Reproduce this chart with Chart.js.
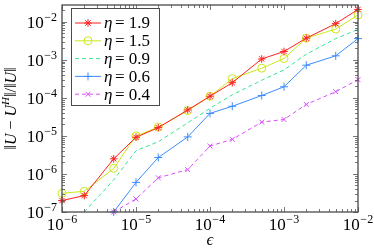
<!DOCTYPE html>
<html>
<head>
<meta charset="utf-8">
<script src="https://cdn.jsdelivr.net/npm/chart.js@4/dist/chart.umd.min.js"></script>
<style>
html, body { margin: 0; padding: 0; background: #fff; }
#wrap { width: 374px; height: 248px; }
</style>
</head>
<body>
<div id="wrap"><canvas id="errChart"></canvas></div>
<script>
// epsilon values (x axis)
var epsValues = [1e-6, 2e-6, 5e-6, 1e-5, 2e-5, 5e-5, 1e-4, 2e-4, 5e-4, 1e-3, 2e-3, 5e-3, 1e-2];

// relative error per eta
var err19 = [2.0e-7, 2.7e-7, 2.5e-6, 9.2e-6, 1.65e-5, 4.8e-5, 1.1e-4, 2.5e-4, 1.05e-3, 1.65e-3, 3.7e-3, 8.9e-3, 2.1e-2];
var err15 = [3.1e-7, 3.5e-7, 1.4e-6, 1.0e-5, 1.7e-5, 4.6e-5, 1.1e-4, 3.2e-4, 6.0e-4, 1.08e-3, 3.7e-3, 6.4e-3, 1.5e-2];
var err09 = [null, 1.0e-7, 7.0e-7, 4.1e-6, 7.0e-6, 2.2e-5, 5.3e-5, 1.2e-4, 2.9e-4, 5.4e-4, 1.4e-3, 3.6e-3, 6.3e-3];
var err06 = [null, null, 1.0e-7, 6.0e-7, 2.7e-6, 9.4e-6, 3.9e-5, 6.0e-5, 1.15e-4, 1.95e-4, 7.2e-4, 1.27e-3, 3.6e-3];
var err04 = [null, null, 1.0e-7, 2.2e-7, 7.9e-7, 1.3e-6, 5.4e-6, 8.1e-6, 2.3e-5, 2.7e-5, 6.7e-5, 1.45e-4, 3.0e-4];

var seriesLabels = ['1.9', '1.5', '0.9', '0.6', '0.4'];

// tick values and their exponent labels (drawn as 10^exp)
var xTicks = [1e-6, 1e-5, 1e-4, 1e-3, 1e-2];
var xTickExps = ['\u22126', '\u22125', '\u22124', '\u22123', '\u22122'];
var yTicks = [1e-7, 1e-6, 1e-5, 1e-4, 1e-3, 1e-2];
var yTickExps = ['\u22127', '\u22126', '\u22125', '\u22124', '\u22123', '\u22122'];

var serif = '"Liberation Serif", serif';

function toPoints(ys) {
    var pts = [];
    for (var i = 0; i < epsValues.length; i++) {
        pts.push({ x: epsValues[i], y: ys[i] });
    }
    return pts;
}

function makeSet(label, ys, color, style, radius, dash) {
    return {
        label: label,
        data: toPoints(ys),
        borderColor: color,
        backgroundColor: color,
        borderWidth: 1,
        borderDash: dash,
        pointStyle: style,
        pointRadius: radius,
        pointBorderColor: color,
        pointBackgroundColor: 'rgba(0,0,0,0)',
        pointBorderWidth: 1,
        tension: 0,
        fill: false,
        clip: false
    };
}

var dataArray = [
    makeSet(seriesLabels[0], err19, '#ff2020', 'star', 3.8, []),
    makeSet(seriesLabels[1], err15, '#cce81a', 'circle', 4, []),
    makeSet(seriesLabels[2], err09, '#33e68c', false, 0, [4, 3]),
    makeSet(seriesLabels[3], err06, '#3a8cff', 'cross', 4, []),
    makeSet(seriesLabels[4], err04, '#d94dff', 'crossRot', 3.5, [4, 3])
];

// draws "10" with a raised exponent; y is the middle of the "10"
function drawPow(c, exp, x, y, align) {
    c.font = '17px ' + serif;
    var wb = c.measureText('10').width;
    c.font = '12px ' + serif;
    var we = c.measureText(exp).width;
    var total = wb + we + 0.5;
    var left = (align == 'right') ? x - total : x - total / 2;
    c.textBaseline = 'middle';
    c.textAlign = 'left';
    c.fillStyle = '#000';
    c.font = '17px ' + serif;
    c.fillText('10', left, y);
    c.font = '12px ' + serif;
    c.fillText(exp, left + wb + 0.5, y - 6);
}

var framePlugin = {
    id: 'framePlugin',
    afterDraw: function(chart) {
        var c = chart.ctx;
        var a = chart.chartArea;
        var xs = chart.scales.x, ys = chart.scales.y;
        c.save();

        // inward ticks, all four sides
        c.strokeStyle = '#555';
        c.lineWidth = 0.8;
        c.beginPath();
        var d, m, v, p, len, i;
        for (d = -6; d <= -2; d++) {
            for (m = 1; m <= 9; m++) {
                v = m * Math.pow(10, d);
                if (v > 1e-2 * 1.0001) break;
                p = Math.round(xs.getPixelForValue(v)) + 0.5;
                len = (m == 1) ? 5 : 3;
                c.moveTo(p, a.bottom); c.lineTo(p, a.bottom - len);
                c.moveTo(p, a.top); c.lineTo(p, a.top + len);
            }
        }
        for (d = -7; d <= -2; d++) {
            for (m = 1; m <= 9; m++) {
                v = m * Math.pow(10, d);
                if (v > ys.max) break;
                p = Math.round(ys.getPixelForValue(v)) + 0.5;
                len = (m == 1) ? 5 : 3;
                c.moveTo(a.left, p); c.lineTo(a.left + len, p);
                c.moveTo(a.right, p); c.lineTo(a.right - len, p);
            }
        }
        c.stroke();
        c.lineWidth = 1.3;
        c.strokeStyle = '#4a4a4a';
        c.strokeRect(a.left, a.top, a.right - a.left, a.bottom - a.top);

        // tick labels
        for (i = 0; i < xTicks.length; i++) {
            drawPow(c, xTickExps[i], xs.getPixelForValue(xTicks[i]), a.bottom + 14, 'center');
        }
        for (i = 0; i < yTicks.length; i++) {
            drawPow(c, yTickExps[i], a.left - 5, ys.getPixelForValue(yTicks[i]) + 2, 'right');
        }

        // x title
        c.font = 'italic 17px ' + serif;
        c.textAlign = 'center';
        c.textBaseline = 'middle';
        c.fillText('\u03F5', (a.left + a.right) / 2, 241);

        // y title ||U - U^H|| / ||U||
        var parts = [
            { t: '\u2016', it: false }, { t: 'U', it: true }, { t: ' \u2212 ', it: false },
            { t: 'U', it: true }, { t: 'H', it: true, sup: true }, { t: '\u2016/\u2016', it: false },
            { t: 'U', it: true }, { t: '\u2016', it: false }
        ];
        var total = 0;
        for (i = 0; i < parts.length; i++) {
            c.font = (parts[i].it ? 'italic ' : '') + (parts[i].sup ? '11px ' : '16px ') + serif;
            parts[i].w = c.measureText(parts[i].t).width;
            total += parts[i].w;
        }
        c.translate(12, (a.top + a.bottom) / 2);
        c.rotate(-Math.PI / 2);
        c.textAlign = 'left';
        var px = -total / 2;
        for (i = 0; i < parts.length; i++) {
            c.font = (parts[i].it ? 'italic ' : '') + (parts[i].sup ? '11px ' : '16px ') + serif;
            c.fillText(parts[i].t, px, parts[i].sup ? -6 : 0);
            px += parts[i].w;
        }
        c.setTransform(1, 0, 0, 1, 0, 0);

        // legend box
        var bx = a.left + 9, by = a.top + 3, bw = 88, bh = 97;
        c.fillStyle = '#fff';
        c.fillRect(bx, by, bw, bh);
        c.lineWidth = 1;
        c.strokeStyle = '#4a4a4a';
        c.strokeRect(bx + 0.5, by + 0.5, bw, bh);
        var sets = chart.data.datasets;
        for (i = 0; i < sets.length; i++) {
            var ds = sets[i];
            var cy = by + 15 + i * 17.8;
            c.strokeStyle = ds.borderColor;
            c.lineWidth = 1;
            c.setLineDash(ds.borderDash || []);
            c.beginPath();
            c.moveTo(bx + 4, cy);
            c.lineTo(bx + 30, cy);
            c.stroke();
            c.setLineDash([]);
            if (ds.pointStyle) {
                c.fillStyle = 'rgba(0,0,0,0)';
                Chart.helpers.drawPoint(c, {
                    pointStyle: ds.pointStyle,
                    radius: ds.pointRadius,
                    borderWidth: 1,
                    rotation: 0
                }, bx + 17, cy);
            }
            c.fillStyle = '#000';
            c.textBaseline = 'middle';
            c.textAlign = 'left';
            c.font = 'italic 17px ' + serif;
            c.fillText('\u03B7', bx + 33, cy + 1);
            c.font = '17px ' + serif;
            c.fillText('= ' + ds.label, bx + 44, cy + 1);
        }
        c.restore();
    }
};

var ctx = document.getElementById('errChart');
var errChart = new Chart(ctx, {
    type: 'line',
    data: { datasets: dataArray },
    options: {
        responsive: true,
        maintainAspectRatio: false,
        animation: false,
        layout: { padding: { top: 2, right: 16, left: 0, bottom: 0 } },
        plugins: {
            legend: { display: false },
            tooltip: { enabled: false }
        },
        scales: {
            x: {
                type: 'logarithmic',
                min: 1e-6,
                max: 1e-2,
                grid: { display: false, drawTicks: false },
                border: { display: false },
                ticks: { display: false },
                afterBuildTicks: function(scale) {
                    scale.ticks = xTicks.map(function(v) { return { value: v }; });
                },
                afterFit: function(scale) { scale.height = 36; }
            },
            y: {
                type: 'logarithmic',
                min: 1e-7,
                max: 0.0275,
                grid: { display: false, drawTicks: false },
                border: { display: false },
                ticks: { display: false },
                afterBuildTicks: function(scale) {
                    scale.ticks = yTicks.map(function(v) { return { value: v }; });
                },
                afterFit: function(scale) { scale.width = 62; }
            }
        }
    },
    plugins: [framePlugin]
});
</script>
</body>
</html>
